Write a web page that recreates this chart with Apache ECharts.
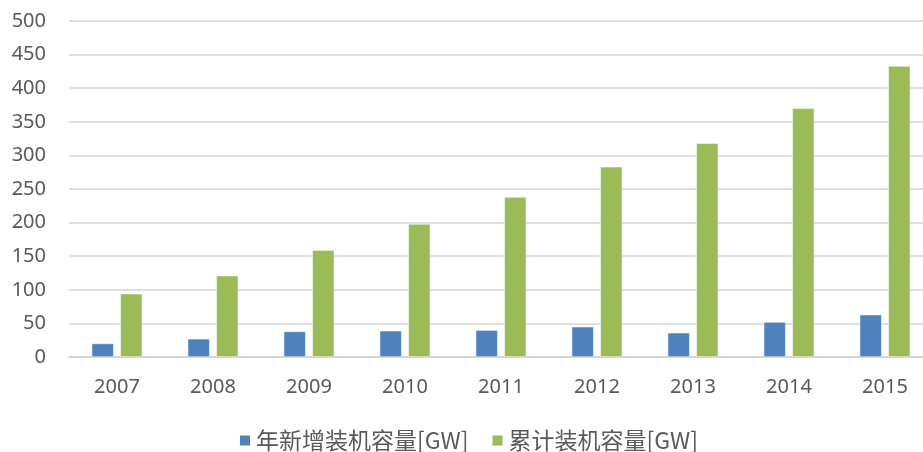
<!DOCTYPE html>
<html>
<head>
<meta charset="utf-8">
<script src="https://cdn.jsdelivr.net/npm/echarts@6/dist/echarts.min.js"></script>
<style>
  html, body { margin: 0; padding: 0; background: #fff; }
  #chart { width: 923px; height: 452px; }
</style>
</head>
<body>
<div id="chart"></div>
<script>
const years = ['2007', '2008', '2009', '2010', '2011', '2012', '2013', '2014', '2015'];
const newCapacity = [20, 27, 38, 39, 40, 45, 36, 52, 63];
const totalCapacity = [94, 121, 159, 198, 238, 283, 318, 370, 433];
const seriesNames = ['年新增装机容量[GW]', '累计装机容量[GW]'];

const chart = echarts.init(document.getElementById('chart'));
const option = {
  animation: false,
  textStyle: { fontFamily: '"Noto Sans", "Noto Sans CJK SC", sans-serif' },
  legend: {
    left: 233,
    top: 424,
    itemWidth: 12,
    itemHeight: 12,
    itemGap: 22,
    icon: 'rect',
    textStyle: { fontSize: 23, color: '#595959', fontFamily: '"Noto Sans CJK SC", sans-serif' },
    data: seriesNames
  },
  grid: { left: 69, top: 21, width: 864, height: 336, outerBoundsMode: 'none' },
  xAxis: {
    type: 'category',
    data: years,
    axisLine: { lineStyle: { color: '#cfcfcf', width: 1.5 } },
    axisTick: { show: false },
    axisLabel: { color: '#595959', fontSize: 20, margin: 20 }
  },
  yAxis: {
    type: 'value',
    min: 0,
    max: 500,
    interval: 50,
    axisLine: { show: false },
    axisTick: { show: false },
    axisLabel: { color: '#595959', fontSize: 20, margin: 23 },
    splitLine: { lineStyle: { color: '#d4d4d4', width: 1.5 } }
  },
  series: [
    {
      name: seriesNames[0],
      type: 'bar',
      data: newCapacity,
      barWidth: 22,
      barGap: '30%',
      itemStyle: { color: '#4f81bd', borderColor: '#ffffff', borderWidth: 0.5 }
    },
    {
      name: seriesNames[1],
      type: 'bar',
      data: totalCapacity,
      barWidth: 22,
      itemStyle: { color: '#9bbb59', borderColor: '#ffffff', borderWidth: 0.5 }
    }
  ]
};
chart.setOption(option);
</script>
</body>
</html>
